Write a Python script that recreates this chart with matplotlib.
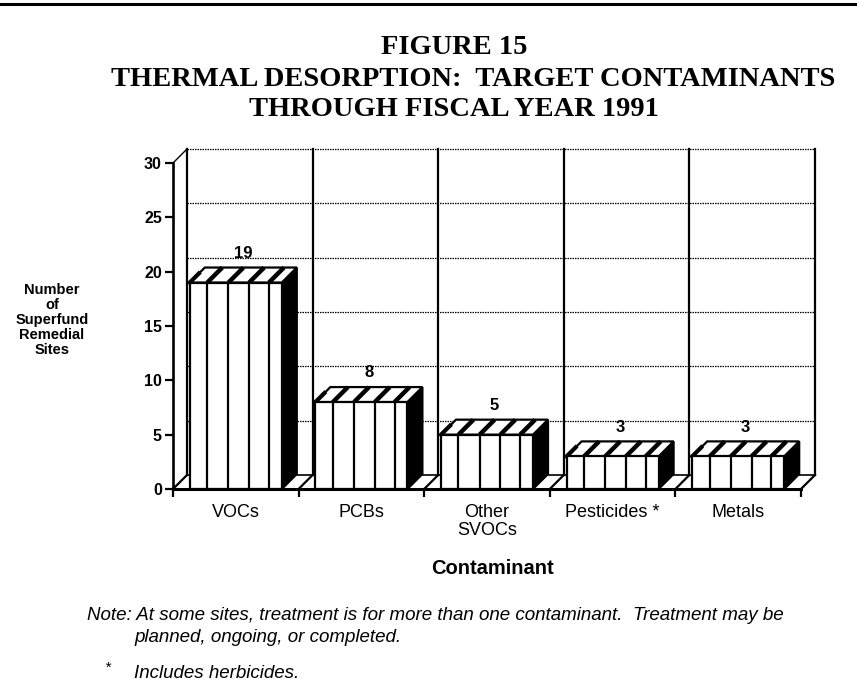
import matplotlib
matplotlib.use("Agg")
import matplotlib.pyplot as plt
from matplotlib.patches import Polygon
from matplotlib.lines import Line2D
import numpy as np

# ---- data ----
categories = ["VOCs", "PCBs", "Other\nSVOCs", "Pesticides *", "Metals"]
sites = [19, 8, 5, 3, 3]
yticks = [0, 5, 10, 15, 20, 25, 30]

title1 = "FIGURE 15"
title2 = "THERMAL DESORPTION:  TARGET CONTAMINANTS"
title3 = "THROUGH FISCAL YEAR 1991"
ylabel = "Number\nof\nSuperfund\nRemedial\nSites"
xlabel = "Contaminant"
note1 = "Note: At some sites, treatment is for more than one contaminant.  Treatment may be"
note2 = "planned, ongoing, or completed."
note3 = "Includes herbicides."

W, H = 857, 698
fig = plt.figure(figsize=(W / 100, H / 100), dpi=100)
fig.patch.set_facecolor("white")

# axes in pixel layout
x0, x1 = 173, 801
y0, y1 = 489, 163
ax = fig.add_axes([x0 / W, 1 - y0 / H, (x1 - x0) / W, (y0 - y1) / H])
n = len(categories)
ax.set_xlim(-0.5, n - 0.5)
ax.set_ylim(0, 30)
for s in ax.spines.values():
    s.set_visible(False)
ax.patch.set_alpha(0)

px_x = (x1 - x0) / n          # pixels per category
px_y = (y0 - y1) / 30.0       # pixels per unit
dx = 14 / px_x
dy = 14 / px_y
bdx = 15 / px_x
bdy = 15 / px_y

K = "black"
LW = 1.6

# back wall gridlines (dotted)
for t in yticks[1:]:
    ax.plot([-0.5 + dx, n - 0.5 + dx], [t + dy, t + dy], color=K, lw=0.9,
            ls=(0, (1.2, 0.8)), clip_on=False, zorder=1)
# back wall verticals
bounds = np.arange(-0.5, n, 1.0)
for b in bounds:
    ax.plot([b + dx, b + dx], [dy, 30 + dy], color=K, lw=LW, clip_on=False, zorder=1)
# floor back edge
ax.plot([-0.5 + dx, n - 0.5 + dx], [dy, dy], color=K, lw=1.2, clip_on=False, zorder=1)
# floor diagonals
for b in bounds:
    ax.plot([b, b + dx], [0, dy], color=K, lw=LW, clip_on=False, zorder=1)
# left side wall top diagonal
ax.plot([-0.5, -0.5 + dx], [30, 30 + dy], color=K, lw=1.0, clip_on=False, zorder=1)
# front y axis
ax.plot([-0.5, -0.5], [0, 30], color=K, lw=LW + 0.3, clip_on=False, zorder=6)
# front x axis
ax.plot([-0.5, n - 0.5], [0, 0], color=K, lw=LW + 0.6, clip_on=False, zorder=6)

# bars
bw = 92 / px_x
strip_fr = [0.19, 0.42, 0.645, 0.86]
for i, v in enumerate(sites):
    L, R = i - bw / 2, i + bw / 2
    # side (black)
    ax.add_patch(Polygon([(R, 0), (R + bdx, bdy), (R + bdx, v + bdy), (R, v)],
                         closed=True, facecolor=K, edgecolor=K, lw=LW, zorder=3, clip_on=False))
    # top face
    ax.add_patch(Polygon([(L, v), (R, v), (R + bdx, v + bdy), (L + bdx, v + bdy)],
                         closed=True, facecolor="white", edgecolor=K, lw=LW, zorder=3, clip_on=False))
    for f in strip_fr:
        xs = L + f * bw
        ax.plot([xs, xs + bdx], [v, v + bdy], color=K, lw=3.2, zorder=4, clip_on=False,
                solid_capstyle="butt")
    ax.plot([L, L + bdx * 0.6], [v, v + bdy * 0.6], color=K, lw=3.0, zorder=4, clip_on=False)
    # front face
    ax.bar(i, v, width=bw, bottom=0, color="white", edgecolor=K, linewidth=LW, zorder=5)
    for f in strip_fr:
        xs = L + f * bw
        ax.plot([xs, xs], [0, v], color=K, lw=LW, zorder=5.5)
    # value label
    ax.text(i + bdx / 2, v + bdy + 1.3, str(v), ha="center", va="center",
            fontsize=12, fontweight="bold", family="Liberation Sans", zorder=7)

# ticks
ax.set_yticks(yticks)
ax.set_yticklabels([str(t) for t in yticks], fontsize=11.5, fontweight="bold",
                   family="Liberation Sans")
ax.tick_params(axis="y", length=6, width=1.6, pad=2, direction="out")
ax.set_xticks(range(n))
ax.set_xticklabels(categories, fontsize=13, family="Liberation Sans", linespacing=1.05)
ax.tick_params(axis="x", which="major", length=0, pad=11)
ax.set_xticks(bounds, minor=True)
ax.tick_params(axis="x", which="minor", length=6, width=1.6, direction="out")

# texts
tkw = dict(ha="center", va="center", fontsize=20.5, fontweight="bold",
           family="Liberation Serif")
fig.text(454 / W, 1 - 47 / H, title1, **tkw)
fig.text(473 / W, 1 - 79 / H, title2, **tkw)
fig.text(454 / W, 1 - 109 / H, title3, **tkw)
fig.text(52 / W, 1 - 320 / H, ylabel, ha="center", va="center", fontsize=10.5,
         fontweight="bold", family="Liberation Sans", linespacing=1.1)
fig.text(492 / W, 1 - 568 / H, xlabel, ha="center", va="center", fontsize=14.5,
         fontweight="bold", family="Liberation Sans")
nkw = dict(ha="left", va="center", fontsize=13.5, style="italic", family="Liberation Sans")
fig.text(87 / W, 1 - 615 / H, note1, **nkw)
fig.text(134 / W, 1 - 638 / H, note2, **nkw)
fig.text(104 / W, 1 - 668 / H, "*", ha="left", va="center", fontsize=11,
         style="italic", family="Liberation Sans")
fig.text(134 / W, 1 - 673 / H, note3, **nkw)

# top border rule
fig.add_artist(Line2D([0, 1], [1 - 4 / H, 1 - 4 / H], color=K, lw=2.2,
                      transform=fig.transFigure))

fig.savefig("out.png", dpi=100, facecolor="white")
